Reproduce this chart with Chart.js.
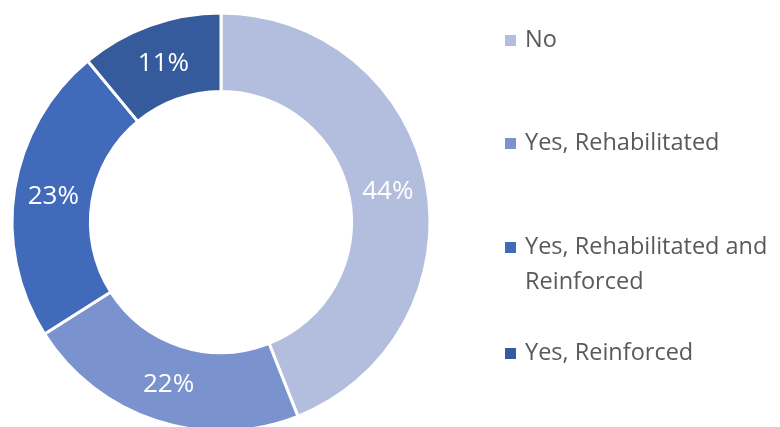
<!DOCTYPE html>
<html>
  <head>
    <title>Rehabilitation status</title>
    <script src="https://cdn.jsdelivr.net/npm/chart.js@4/dist/chart.umd.min.js"></script>
    <style>
      html, body { margin: 0; padding: 0; background: #fff; }
      #wrap { width: 780px; height: 427px; }
    </style>
  </head>
  <body>
    <div id="wrap"><canvas id="canvas" width="780" height="427"></canvas></div>
    <script>
      var categories = ['No', 'Yes, Rehabilitated', 'Yes, Rehabilitated and Reinforced', 'Yes, Reinforced'];
      var shares = [44, 22, 23, 11];
      var sliceColors = ['#B3BEDE', '#7A93CE', '#416BBA', '#365B9C'];

      var FONT = '"Open Sans", "Noto Sans", sans-serif';

      // percentage text in the middle of every ring segment
      var sliceLabels = {
        id: 'sliceLabels',
        afterDatasetsDraw: function(chart) {
          var ctx = chart.ctx;
          var meta = chart.getDatasetMeta(0);
          ctx.save();
          ctx.fillStyle = '#ffffff';
          ctx.font = '26px ' + FONT;
          ctx.textAlign = 'center';
          ctx.textBaseline = 'middle';
          meta.data.forEach(function(arc, i) {
            var p = arc.tooltipPosition();
            ctx.fillText(shares[i] + '%', p.x, p.y + 1);
          });
          ctx.restore();
        }
      };

      // legend on the right with wrapped text
      var sideLegend = {
        id: 'sideLegend',
        afterDraw: function(chart) {
          var ctx = chart.ctx;
          var left = 505, textX = 525, maxW = 256, lineH = 35;
          var rows = [40, 143, 247, 353];
          ctx.save();
          ctx.font = '23.5px ' + FONT;
          ctx.textBaseline = 'middle';
          chart.data.labels.forEach(function(label, i) {
            var words = label.split(' ');
            var lines = [], cur = '';
            words.forEach(function(w) {
              var t = cur ? cur + ' ' + w : w;
              if (ctx.measureText(t).width > maxW && cur) { lines.push(cur); cur = w; }
              else cur = t;
            });
            lines.push(cur);
            var y = rows[i];
            ctx.fillStyle = sliceColors[i];
            ctx.fillRect(left, y - 5, 11, 11);
            ctx.fillStyle = '#595959';
            lines.forEach(function(line, k) {
              ctx.fillText(line, textX, y + k * lineH);
            });
          });
          ctx.restore();
        }
      };

      var ctx = document.getElementById('canvas').getContext('2d');
      new Chart(ctx, {
        type: 'doughnut',
        data: {
          labels: categories,
          datasets: [{
            data: shares,
            backgroundColor: sliceColors,
            borderColor: '#ffffff',
            borderWidth: 3,
            radius: 209,
            cutout: '62.5%'
          }]
        },
        options: {
          responsive: false,
          animation: false,
          layout: { padding: { left: 12, right: 350, top: 17, bottom: 0 } },
          plugins: {
            legend: { display: false },
            tooltip: { enabled: false }
          }
        },
        plugins: [sliceLabels, sideLegend]
      });
    </script>
  </body>
</html>
